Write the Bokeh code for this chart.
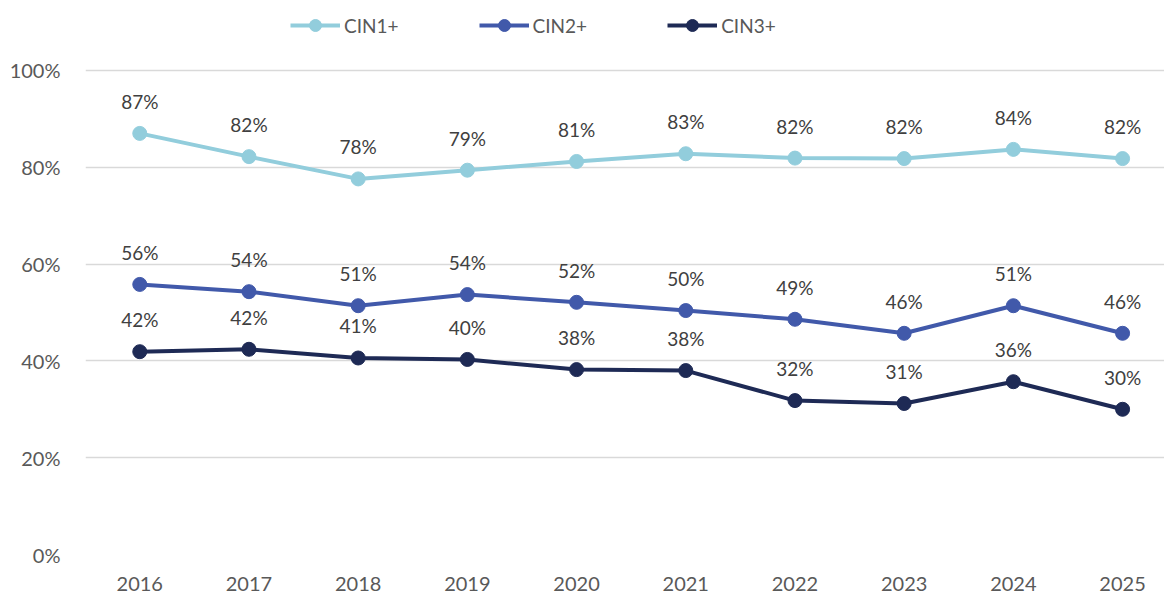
from bokeh.plotting import figure
from bokeh.models import (ColumnDataSource, Range1d, FixedTicker, PrintfTickFormatter,
                          Legend, LegendItem)
from bokeh.core.properties import value
from bokeh.embed import file_html
from bokeh.resources import INLINE

years = [2016, 2017, 2018, 2019, 2020, 2021, 2022, 2023, 2024, 2025]
cin1 = [87.0, 82.2, 77.6, 79.4, 81.2, 82.8, 81.9, 81.8, 83.7, 81.8]
cin2 = [55.8, 54.3, 51.4, 53.7, 52.1, 50.4, 48.6, 45.7, 51.4, 45.7]
cin3 = [41.9, 42.4, 40.6, 40.3, 38.2, 38.0, 31.8, 31.2, 35.7, 30.0]
series_names = ["CIN1+", "CIN2+", "CIN3+"]
series_values = [cin1, cin2, cin3]
colors = ["#92CDDC", "#4159AA", "#1E2A55"]
y_ticks = [0, 20, 40, 60, 80, 100]

FONT = "Lato"
TXT = "#595959"

p = figure(width=1164, height=594, output_backend="svg", toolbar_location=None,
           x_range=Range1d(2015.503, 2025.384), y_range=Range1d(0, 114.46),
           min_border_left=85, min_border_right=0, min_border_top=0,
           min_border_bottom=40)
p.outline_line_color = None
p.background_fill_color = "white"
p.border_fill_color = "white"

p.xgrid.grid_line_color = None
p.ygrid.grid_line_color = "#D9D9D9"
p.ygrid.grid_line_width = 1.5
p.yaxis.ticker = FixedTicker(ticks=y_ticks)
p.xaxis.ticker = FixedTicker(ticks=years)
p.yaxis.formatter = PrintfTickFormatter(format="%d%%")
p.xaxis.formatter = PrintfTickFormatter(format="%d")
for ax in (p.xaxis, p.yaxis):
    ax.axis_line_color = None
    ax.major_tick_line_color = None
    ax.minor_tick_line_color = None
    ax.major_label_text_font = FONT
    ax.major_label_text_font_size = "20px"
    ax.major_label_text_color = TXT
p.yaxis.major_label_standoff = 19
p.xaxis.major_label_standoff = 16

items = []
for name, vals, c in zip(series_names, series_values, colors):
    src = ColumnDataSource(dict(x=years, y=vals, lab=[f"{round(v)}%" for v in vals]))
    l = p.line("x", "y", source=src, line_color=c, line_width=4)
    s = p.scatter("x", "y", source=src, size=14, fill_color=c, line_color=c)
    p.text("x", "y", text="lab", source=src, text_font=value(FONT),
           text_font_size="19px", text_color="#404040", text_align="center",
           text_baseline="middle", y_offset=-32)
    items.append(LegendItem(label=name, renderers=[l, s]))

legend = Legend(items=items, orientation="horizontal", location=(205, 514),
                glyph_width=50, glyph_height=30, label_standoff=4, spacing=80,
                padding=0, margin=0, border_line_color=None,
                background_fill_alpha=0, label_text_font=FONT,
                label_text_font_size="19px", label_text_color=TXT)
p.add_layout(legend, "center")

open("out.html", "w").write(file_html(p, INLINE))
